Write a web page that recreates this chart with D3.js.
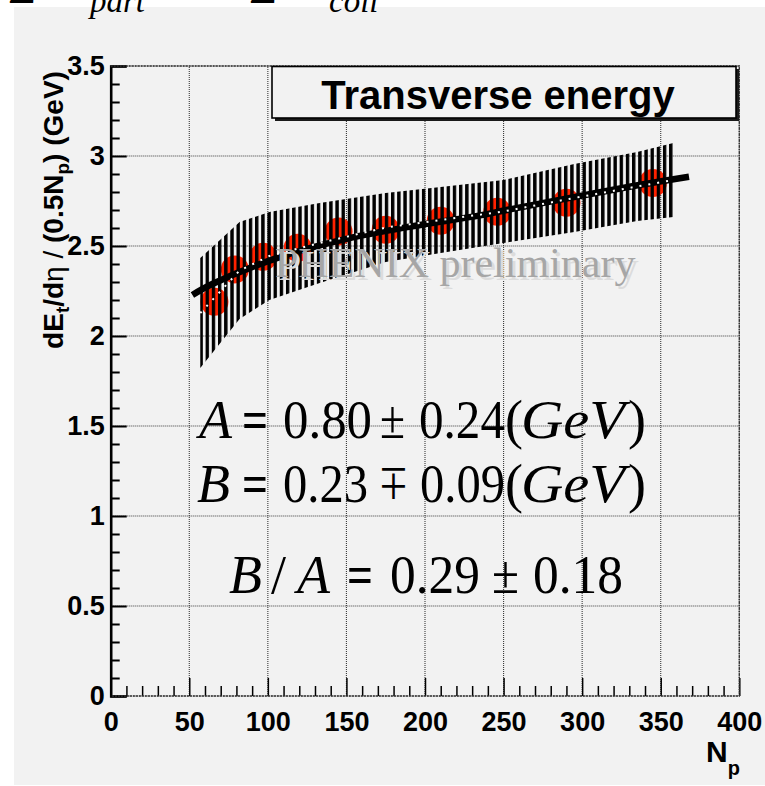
<!DOCTYPE html>
<html><head><meta charset="utf-8">
<script src="https://cdn.jsdelivr.net/npm/d3@7"></script>
<style>html,body{margin:0;padding:0;background:#fff;} svg{display:block;}</style>
</head><body>
<svg id="chart" width="765" height="786"></svg>
<script>
// Measured points: number of participants vs dE_t/dη per participant pair (GeV)
const npart = [66, 79, 97, 119, 145, 175, 210, 246, 290, 345];
const etPerPair = [2.19, 2.37, 2.44, 2.49, 2.58, 2.59, 2.64, 2.69, 2.74, 2.85];

// Systematic error band (vertices of the hatched area)
const bandNp   = [57, 82, 101, 133, 175, 210, 250, 295, 335, 358];
const bandHigh = [2.433, 2.633, 2.689, 2.739, 2.794, 2.828, 2.867, 2.956, 3.022, 3.072];
const bandLow  = [1.822, 2.094, 2.200, 2.294, 2.411, 2.461, 2.517, 2.578, 2.639, 2.661];

// Fit curve A*Npart + B*Ncoll, expressed per participant pair
const fitNp = [52, 65, 108, 150, 192, 235, 252, 294, 337, 368];
const fitEt = [2.228, 2.29, 2.44, 2.54, 2.61, 2.67, 2.70, 2.77, 2.84, 2.885];

const xTicks = [0, 50, 100, 150, 200, 250, 300, 350, 400];
const yTicks = [0, 0.5, 1, 1.5, 2, 2.5, 3, 3.5];
const xMinor = d3.range(0, 401, 10).filter(v => v % 50 !== 0);
const yMinor = d3.range(0, 35).map(i => i / 10).filter(v => Math.abs(v * 2 - Math.round(v * 2)) > 1e-6);

const svg = d3.select("#chart");
const x = d3.scaleLinear().domain([0, 400]).range([110.7, 739.3]);
const y = d3.scaleLinear().domain([0, 3.5]).range([696, 66]);

// canvas background
svg.append("rect").attr("x", 14).attr("y", 7).attr("width", 751).attr("height", 778).attr("fill", "#f2f2f2");

// fragments of the previous line of the slide
const serif = "Liberation Serif";
svg.append("text").attr("x", 8).attr("y", 3).attr("font-family", serif).attr("font-size", 48).text("Σ");
svg.append("text").attr("x", 90).attr("y", 12).attr("font-family", serif).attr("font-style", "italic").attr("font-size", 33).text("part");
svg.append("text").attr("x", 249).attr("y", 3).attr("font-family", serif).attr("font-size", 48).text("Σ");
svg.append("text").attr("x", 329).attr("y", 12).attr("font-family", serif).attr("font-style", "italic").attr("font-size", 33).text("coll");

// hatch pattern for the band
const defs = svg.append("defs");
const pat = defs.append("pattern").attr("id", "vhatch").attr("patternUnits", "userSpaceOnUse")
  .attr("x", 199.4).attr("y", 0).attr("width", 6.18).attr("height", 20);
pat.append("rect").attr("x", 0).attr("y", 0).attr("width", 3.4).attr("height", 20).attr("fill", "#000");

// grid
const grid = svg.append("g").attr("stroke", "#3a3a3a").attr("stroke-width", 1.1).attr("stroke-dasharray", "1,1");
xTicks.filter(v => v > 0).forEach(v => {
  grid.append("line").attr("x1", x(v)).attr("x2", x(v)).attr("y1", y(0)).attr("y2", y(3.5));
});
yTicks.forEach(v => {
  grid.append("line").attr("x1", x(0)).attr("x2", x(400)).attr("y1", y(v)).attr("y2", y(v));
});

// axes
const fontAxis = "Liberation Sans";
const yAxis = svg.append("g").attr("transform", `translate(${x(0)},0)`)
  .call(d3.axisLeft(y).tickValues(yTicks).tickSize(-16).tickPadding(6).tickFormat(d => String(d)));
yAxis.select(".domain").attr("stroke", "#000").attr("stroke-width", 2.6);
yAxis.selectAll(".tick line").attr("stroke", "#000").attr("stroke-width", 2);
yAxis.selectAll("text").attr("font-family", fontAxis).attr("font-weight", "bold").attr("font-size", 27).attr("fill", "#000");
svg.append("g").attr("transform", `translate(${x(0)},0)`)
  .call(d3.axisLeft(y).tickValues(yMinor).tickSize(-9).tickFormat(""))
  .call(g => g.select(".domain").remove())
  .selectAll(".tick line").attr("stroke", "#000").attr("stroke-width", 2);

const xAxis = svg.append("g").attr("transform", `translate(0,${y(0)})`)
  .call(d3.axisBottom(x).tickValues(xTicks).tickSize(-18).tickPadding(16).tickFormat(d => String(d)));
xAxis.select(".domain").remove();
xAxis.selectAll(".tick line").attr("stroke", "#000").attr("stroke-width", 1.5);
xAxis.selectAll("text").attr("font-family", fontAxis).attr("font-weight", "bold").attr("font-size", 27).attr("fill", "#000");
svg.append("g").attr("transform", `translate(0,${y(0)})`)
  .call(d3.axisBottom(x).tickValues(xMinor).tickSize(-10).tickFormat(""))
  .call(g => g.select(".domain").remove())
  .selectAll(".tick line").attr("stroke", "#000").attr("stroke-width", 1.5);

// axis titles
const yl = svg.append("text").attr("transform", "translate(63,210) rotate(-90)")
  .attr("text-anchor", "middle").attr("font-family", fontAxis).attr("font-weight", "bold").attr("font-size", 28);
yl.append("tspan").text("dE");
yl.append("tspan").attr("font-size", 19).attr("dy", 6).text("t");
yl.append("tspan").attr("dy", -6).text("/d");
yl.append("tspan").attr("font-weight", "normal").text("η / ");
yl.append("tspan").text("(0.5N");
yl.append("tspan").attr("font-size", 19).attr("dy", 6).text("p");
yl.append("tspan").attr("dy", -6).text(") (GeV)");

const xl = svg.append("text").attr("x", 706).attr("y", 762).attr("font-family", fontAxis).attr("font-weight", "bold").attr("font-size", 30);
xl.append("tspan").text("N");
xl.append("tspan").attr("font-size", 20).attr("dy", 13).text("p");

// data points
svg.append("g").selectAll("circle").data(npart).join("circle")
  .attr("cx", d => x(d)).attr("cy", (d, i) => y(etPerPair[i])).attr("r", 14).attr("fill", "#ff2200");

// hatched systematic band
const bandData = bandNp.map((v, i) => ({np: v, hi: bandHigh[i], lo: bandLow[i]}));
svg.append("path").datum(bandData)
  .attr("d", d3.area().x(d => x(d.np)).y0(d => y(d.lo)).y1(d => y(d.hi)))
  .attr("fill", "url(#vhatch)");

// fit curve
const fitData = fitNp.map((v, i) => ({np: v, et: fitEt[i]}));
svg.append("path").datum(fitData)
  .attr("d", d3.line().x(d => x(d.np)).y(d => y(d.et)).curve(d3.curveCatmullRom))
  .attr("fill", "none").attr("stroke", "#000").attr("stroke-width", 6.5);

// band centre line
svg.append("path").datum(bandData)
  .attr("d", d3.line().x(d => x(d.np)).y(d => y((d.hi + d.lo) / 2)))
  .attr("fill", "none").attr("stroke", "#fff").attr("stroke-width", 2).attr("stroke-dasharray", "2,7");

// frame (top, right, bottom dotted)
const frame = svg.append("g").attr("stroke", "#333").attr("stroke-width", 1.4).attr("stroke-dasharray", "2,1").attr("fill", "none");
frame.append("path").attr("d", `M${x(0)},${y(3.5)}H${x(400)}V${y(0)}H${x(0)}`);

// title box
svg.append("rect").attr("x", 275).attr("y", 69).attr("width", 464).attr("height", 52).attr("fill", "#1a1a1a");
svg.append("rect").attr("x", 272).attr("y", 66.5).attr("width", 464).attr("height", 51.5).attr("fill", "#f2f2f2").attr("stroke", "#000").attr("stroke-width", 1.6);
svg.append("text").attr("x", 498).attr("y", 109).attr("text-anchor", "middle").attr("font-family", fontAxis)
  .attr("font-weight", "bold").attr("font-size", 40).text("Transverse energy");

// preliminary tag
svg.append("text").attr("x", 278).attr("y", 280).attr("font-family", serif).attr("font-size", 42)
  .attr("fill", "#dcdcdc").text("PHENIX preliminary");
svg.append("text").attr("x", 275).attr("y", 277).attr("font-family", serif).attr("font-size", 42)
  .attr("fill", "#a6a6a6").text("PHENIX preliminary");

// fit results
function formula(yBase, pieces) {
  const g = svg.append("g");
  pieces.forEach(p => {
    const t = g.append("text").attr("x", p.x).attr("y", yBase).attr("font-family", serif).attr("font-size", 54)
      .attr("font-style", p.it ? "italic" : "normal").attr("font-weight", p.b ? "bold" : "normal")
      .attr("fill", "#000").text(p.flip ? "±" : p.t);
    if (p.len) t.attr("textLength", p.len).attr("lengthAdjust", "spacingAndGlyphs");
    if (p.flip) t.attr("transform", `translate(0,${2 * (yBase - 17)}) scale(1,-1)`);
  });
}
formula(438, [
  {t: "A", x: 199, it: true}, {t: "=", x: 242, b: true, len: 26}, {t: "0.80", x: 283, len: 89}, {t: "±", x: 380, len: 25},
  {t: "0.24", x: 419, len: 86}, {t: "(", x: 505}, {t: "GeV", x: 521, it: true, len: 104}, {t: ")", x: 628}
]);
formula(502, [
  {t: "B", x: 197, it: true}, {t: "=", x: 242, b: true, len: 26}, {t: "0.23", x: 283, len: 85}, {t: "∓", x: 380, len: 27, flip: true},
  {t: "0.09", x: 420, len: 85}, {t: "(", x: 505}, {t: "GeV", x: 521, it: true, len: 104}, {t: ")", x: 628}
]);
formula(593, [
  {t: "B", x: 229, it: true}, {t: "/", x: 271}, {t: "A", x: 297, it: true}, {t: "=", x: 347, b: true, len: 26},
  {t: "0.29", x: 390, len: 90}, {t: "±", x: 492, len: 27}, {t: "0.18", x: 533, len: 90}
]);
</script>
</body></html>
